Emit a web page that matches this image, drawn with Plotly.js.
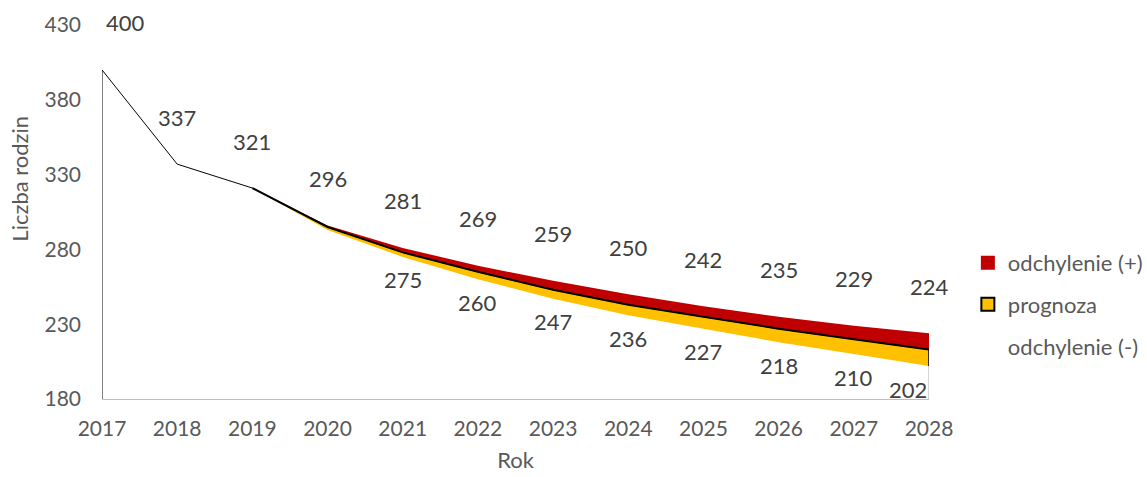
<!DOCTYPE html>
<html>
<head>
<meta charset="utf-8">
<script src="https://cdn.plot.ly/plotly-3.0.1.min.js"></script>
<style>
html,body{margin:0;padding:0;background:#fff;}
#chart{width:1147px;height:477px;}
</style>
</head>
<body>
<div id="chart"></div>
<script>
// ---- data ----
const years = [2017, 2018, 2019, 2020, 2021, 2022, 2023, 2024, 2025, 2026, 2027, 2028];
const upperValues = [400, 337, 321, 296, 281, 269, 259, 250, 242, 235, 229, 224];   // odchylenie (+)
const forecastValues = [400, 337, 321, 295, 278, 265, 253, 243, 235, 227, 220, 213]; // prognoza
const lowerValues = [400, 337, 321, 293, 275, 260, 247, 236, 227, 218, 210, 202];   // odchylenie (-)
const lowerLabelStart = 4; // lower labels shown from 2021 on
const yTicks = [180, 230, 280, 330, 380, 430];
const seriesNames = ['odchylenie (+)', 'prognoza', 'odchylenie (-)'];
const xTitle = 'Rok';
const yTitle = 'Liczba rodzin';

// ---- style ----
const RED = '#C00000', YELLOW = '#FFC000';
const FONT = 'Lato, "Open Sans", sans-serif';
const yMin = yTicks[0], yMax = yTicks[yTicks.length - 1];
const last = years.length - 1;

const traces = [
  {x: years, y: lowerValues, mode: 'lines', line: {width: 0}, showlegend: false, hoverinfo: 'skip'},
  {x: years, y: forecastValues, mode: 'lines', line: {width: 0}, fill: 'tonexty', fillcolor: YELLOW, showlegend: false, hoverinfo: 'skip'},
  {x: years, y: upperValues, mode: 'lines', line: {width: 0}, fill: 'tonexty', fillcolor: RED, showlegend: false, hoverinfo: 'skip'},
  // thin forecast line along the whole range
  {x: years, y: forecastValues, mode: 'lines', line: {color: '#000', width: 1}, showlegend: false, hoverinfo: 'skip'},
  // thicker forecast border where the band opens
  {x: years.slice(2), y: forecastValues.slice(2), mode: 'lines', line: {color: '#000', width: 2}, showlegend: false, hoverinfo: 'skip'},
  // left edge of the area
  {x: [years[0], years[0]], y: [yMin, forecastValues[0]], mode: 'lines', line: {color: '#000', width: 1}, showlegend: false, hoverinfo: 'skip'},
  // right edges
  {x: [years[last], years[last]], y: [lowerValues[last], forecastValues[last]], mode: 'lines', line: {color: '#000', width: 1.5}, showlegend: false, hoverinfo: 'skip'},
  {x: [years[last], years[last]], y: [yMin, lowerValues[last]], mode: 'lines', line: {color: '#A6A6A6', width: 1}, showlegend: false, hoverinfo: 'skip'},
  // legend entries
  {x: [null], y: [null], mode: 'markers', name: seriesNames[0], legendgroup: 'a',
   marker: {symbol: 'square', size: 14, color: RED, line: {width: 0}}},
  {x: [null], y: [null], mode: 'markers', name: seriesNames[1], legendgroup: 'b',
   marker: {symbol: 'square', size: 13, color: YELLOW, line: {color: '#000', width: 2}}},
  {x: [null], y: [null], mode: 'markers', name: seriesNames[2], legendgroup: 'c',
   marker: {symbol: 'square', size: 14, color: 'rgba(0,0,0,0)', line: {width: 0}}}
];

const annotations = [];
upperValues.forEach((v, i) => {
  annotations.push({
    x: years[i], y: v, xref: 'x', yref: 'y', text: String(v), showarrow: false,
    yshift: 47, xanchor: i === 0 ? 'left' : 'center', xshift: i === 0 ? 2 : 0,
    font: {family: FONT, size: 22, color: '#404040'}
  });
});
lowerValues.forEach((v, i) => {
  if (i < lowerLabelStart) return;
  annotations.push({
    x: years[i], y: v, xref: 'x', yref: 'y', text: String(v), showarrow: false,
    yshift: -23, xanchor: i === last ? 'right' : 'center',
    font: {family: FONT, size: 22, color: '#404040'}
  });
});
annotations.push({
  xref: 'paper', yref: 'paper', x: -0.1, y: 0.59, text: yTitle, textangle: -90,
  showarrow: false, xanchor: 'center', yanchor: 'middle',
  font: {family: FONT, size: 22, color: '#595959'}
});

const layout = {
  width: 1147, height: 477,
  margin: {l: 102, r: 218, t: 25, b: 78, autoexpand: false},
  paper_bgcolor: '#fff', plot_bgcolor: '#fff',
  font: {family: FONT, color: '#595959'},
  hovermode: false,
  showlegend: true,
  legend: {
    x: 1.047, xanchor: 'left', y: 0.42, yanchor: 'top',
    traceorder: 'grouped', tracegroupgap: 10,
    font: {family: FONT, size: 22, color: '#595959'},
    bgcolor: 'rgba(0,0,0,0)'
  },
  xaxis: {
    range: [years[0], years[last]], tickvals: years, ticktext: years.map(String),
    showgrid: false, zeroline: false, showline: true, linecolor: '#BFBFBF', linewidth: 1,
    ticks: '', ticklabelstandoff: 11,
    tickfont: {family: FONT, size: 21, color: '#595959'},
    title: {text: xTitle, font: {family: FONT, size: 22, color: '#595959'}, standoff: 13}
  },
  yaxis: {
    range: [yMin, yMax], tickvals: yTicks, ticktext: yTicks.map(String),
    showgrid: false, zeroline: false, showline: false, ticks: '',
    ticklabelstandoff: 20,
    tickfont: {family: FONT, size: 21, color: '#595959'}
  },
  annotations: annotations
};

Plotly.newPlot('chart', traces, layout, {displayModeBar: false, staticPlot: true});
</script>
</body>
</html>
